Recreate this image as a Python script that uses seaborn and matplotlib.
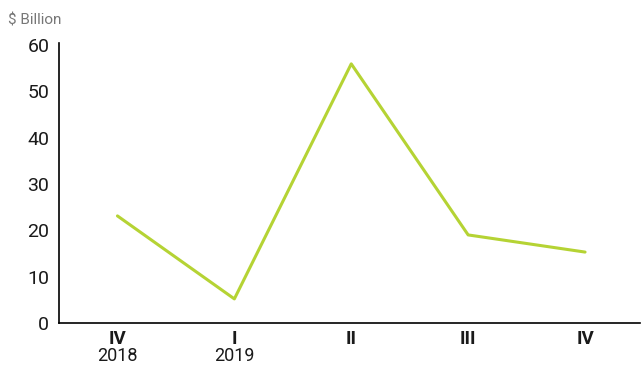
import matplotlib
matplotlib.use('Agg')
import matplotlib.pyplot as plt
import seaborn as sns
import pandas as pd

# Dados
quarters = ['IV', 'I', 'II', 'III', 'IV']
years = ['2018', '2019', '', '', '']
values = [23.1, 5.2, 55.9, 19.0, 15.3]

df = pd.DataFrame({'pos': range(len(values)), 'valor': values})

sns.set_style('white')
plt.rcParams['font.family'] = ['Roboto', 'DejaVu Sans']

fig = plt.figure(figsize=(6.42, 3.70), dpi=100)
ax = fig.add_axes([59 / 642, 1 - 323 / 370, 581 / 642, 280 / 370])

sns.lineplot(data=df, x='pos', y='valor', ax=ax, color='#b5d334', linewidth=2.2)

ax.set_xlim(-0.5, 4.47)
ax.set_ylim(0, 60.4)
ax.set_yticks(range(0, 61, 10))
ax.set_xticks(range(len(quarters)))
ax.set_xticklabels(quarters, fontweight='bold', fontsize=13.5, color='#1a1a1a')
ax.tick_params(axis='y', labelsize=14, length=0, pad=7, labelcolor='#1a1a1a')
ax.tick_params(axis='x', length=0, pad=5)
for i, yr in enumerate(years):
    if yr:
        ax.text(i, -0.087, yr, transform=ax.get_xaxis_transform(),
                ha='center', va='top', fontsize=13, color='#1a1a1a')

ax.set_xlabel('')
ax.set_ylabel('')
sns.despine(ax=ax)
for s in ['left', 'bottom']:
    ax.spines[s].set_color('black')
    ax.spines[s].set_linewidth(1.2)

fig.text(8 / 642, 1 - 21 / 370, '\\$ Billion', color='#777777', fontsize=11, va='center')

fig.savefig('out.png', dpi=100)
